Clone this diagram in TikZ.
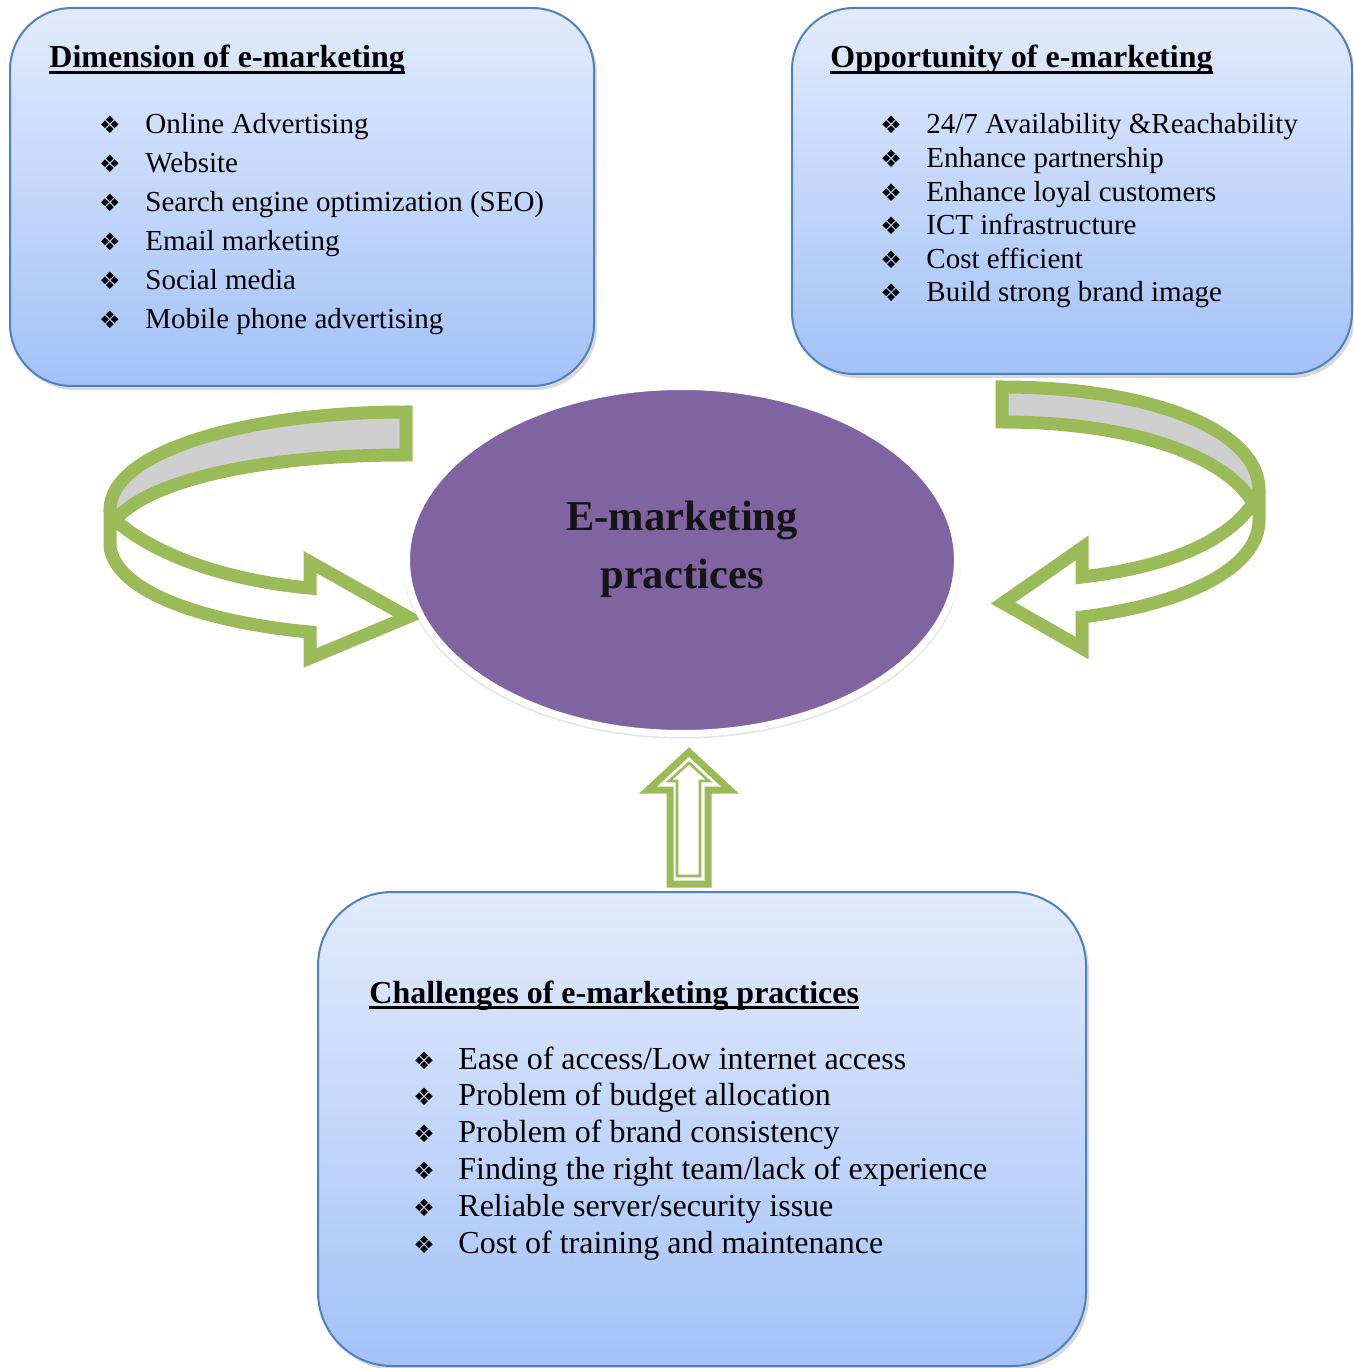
\documentclass[tikz,border=0pt]{standalone}
\usepackage{fontspec}
\setmainfont{Liberation Serif}
\newfontfamily\bulletfont{DejaVu Sans}
\usetikzlibrary{shapes.geometric,shadows}

\definecolor{boxtop}{HTML}{E2EBFC}
\definecolor{boxbot}{HTML}{A3C2F8}
\definecolor{boxline}{HTML}{4F81BD}
\definecolor{ribgreen}{HTML}{9BBB59}
\definecolor{ribgrey}{HTML}{CFCFCF}
\definecolor{practicefill}{HTML}{8064A2}

\tikzset{
  infobox/.style={draw=boxline, line width=1pt, top color=boxtop, bottom color=boxbot,
    inner sep=0pt, drop shadow={shadow xshift=1.5pt, shadow yshift=-2pt, opacity=0.3}},
  ribbon/.style={draw=ribgreen, line width=6.5pt, line join=miter, miter limit=2.5},
  bulletmark/.style={anchor=base, inner sep=0pt, font=\bulletfont\fontsize{12}{12}\selectfont},
  itemtext/.style={anchor=base west, inner sep=0pt, font=\fontsize{14.5}{17}\selectfont},
  bigitemtext/.style={itemtext, font=\fontsize{16}{19}\selectfont},
  headtext/.style={anchor=base west, inner sep=0pt, font=\fontsize{16}{19}\selectfont\bfseries},
  headline/.style={line width=1.3pt}
}

\begin{document}
\begin{tikzpicture}[x=0.5pt,y=-0.5pt]
            \useasboundingbox (0,0) rectangle (1353,1368);
            \clip (0,0) rectangle (1353,1368);
            %draw the three boxes
            \node[infobox, rounded corners=31pt, minimum width=292pt, minimum height=189pt] (dimbox) at (302,197) {};
            \node[infobox, rounded corners=31pt, minimum width=280pt, minimum height=183pt] (oppbox) at (1072,191) {};
            \node[infobox, rounded corners=37pt, minimum width=384pt, minimum height=237pt] (chalbox) at (702,1129) {};
            %headings
            \node[headtext] (dimhead) at (49,68) {Dimension of e-marketing};
            \node[headtext] (opphead) at (830,68) {Opportunity of e-marketing};
            \node[headtext] (chalhead) at (369,1003) {Challenges of e-marketing practices};
            \foreach \h in {dimhead,opphead,chalhead}
            \draw[headline] ([yshift=-2.2pt]\h.base west) -- ([yshift=-2.2pt]\h.base east);
            %the lists
            \foreach \txt [count=\i from 0] in {Online Advertising, Website, Search engine optimization (SEO), Email marketing, Social media, Mobile phone advertising}
            {
            \node[bulletmark] (dimb\i) at (110,134+39*\i) {❖};
            \node[itemtext] (dimi\i) at (145,134+39*\i) {\txt};
            }
            \foreach \txt [count=\i from 0] in {24/7 Availability \&Reachability, Enhance partnership, Enhance loyal customers, ICT infrastructure, Cost efficient, Build strong brand image}
            {
            \node[bulletmark] (oppb\i) at (891,134+33.6*\i) {❖};
            \node[itemtext] (oppi\i) at (926,134+33.6*\i) {\txt};
            }
            \foreach \txt [count=\i from 0] in {Ease of access/Low internet access, Problem of budget allocation, Problem of brand consistency, Finding the right team/lack of experience, Reliable server/security issue, Cost of training and maintenance}
            {
            \node[bulletmark] (chalb\i) at (424,1069+36.8*\i) {❖};
            \node[bigitemtext] (chali\i) at (458,1069+36.8*\i) {\txt};
            }
            %left curved arrow
            \filldraw[ribbon, fill=ribgrey] (406,412) .. controls (250,412) and (110,450) .. (110,510)
              -- (115,520) .. controls (150,480) and (260,455) .. (406,455) -- cycle;
            \filldraw[ribbon, fill=white] (115,520) .. controls (160,560) and (240,582) .. (310,588)
              -- (310,562) -- (408,617) -- (310,658) -- (310,632)
              .. controls (230,625) and (120,600) .. (110,548) -- (110,510) -- cycle;
            %right curved arrow
            \filldraw[ribbon, fill=ribgrey] (1002,387) .. controls (1150,387) and (1259,430) .. (1259,490)
              -- (1253,503) .. controls (1225,455) and (1130,422) .. (1002,422) -- cycle;
            \filldraw[ribbon, fill=white] (1253,503) .. controls (1225,545) and (1160,568) .. (1082,577)
              -- (1082,548) -- (1003,603) -- (1082,648) -- (1082,617)
              .. controls (1180,605) and (1259,570) .. (1259,520) -- (1259,490) -- cycle;
            %up arrow
            \draw[draw=ribgreen, line width=3.5pt, line join=miter, fill=white] (689,752) -- (730,790) -- (708,790)
              -- (708,884) -- (670,884) -- (670,790) -- (648,790) -- cycle;
            \draw[draw=ribgreen, line width=1.3pt, line join=miter] (689,763) -- (709,781) -- (700,781)
              -- (700,876) -- (677,876) -- (677,781) -- (669,781) -- cycle;
            %the centre
            \node[ellipse, draw=white, line width=3.5pt, fill=practicefill, minimum width=275.5pt, minimum height=173.5pt,
              drop shadow={shadow xshift=0pt, shadow yshift=-1.5pt, opacity=0.22, shadow scale=1.012}] (practice) at (682,560) {};
            \node[align=center, text=black!92, font=\fontsize{21.3}{29}\selectfont\bfseries] (practicetext) at (682,549) {E-marketing\\practices};
\end{tikzpicture}
\end{document}
